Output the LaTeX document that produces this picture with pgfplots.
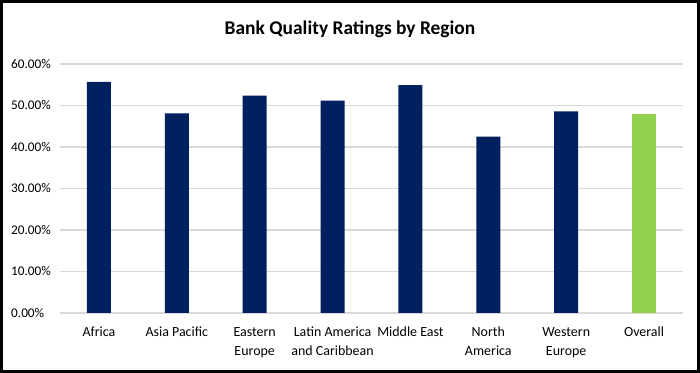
\documentclass[border=0pt]{standalone}
\usepackage{pgfplots}
\pgfplotsset{compat=1.18}
\usepackage{fontspec}
\setmainfont{Carlito}
\definecolor{navy}{HTML}{002060}
\definecolor{lgreen}{HTML}{92D050}
\definecolor{gridgray}{HTML}{D9D9D9}
\begin{document}
\begin{tikzpicture}
\fill[white] (0,0) rectangle (700bp,373bp);
\draw[black, line width=3bp] (1.5bp,1.5bp) rectangle (698.5bp,371.5bp);
\node[font=\fontsize{19.5}{23}\selectfont\bfseries] at (350bp,344bp) {Bank Quality Ratings by Region};
\begin{axis}[
  at={(60bp,60bp)}, anchor=south west,
  scale only axis, width=623bp, height=249bp,
  xmin=-0.5, xmax=7.5, ymin=0, ymax=60,
  axis line style={draw=none},
  axis x line*=bottom,
  x axis line style={draw=gridgray, line width=1.2bp},
  ymajorgrids, grid style={gridgray, line width=1.2bp},
  ytick={0,10,...,60},
  yticklabel={\pgfmathprintnumber[fixed,fixed zerofill,precision=2]{\tick}\%},
  /pgf/number format/assume math mode=true,
  yticklabel style={anchor=west, inner sep=0pt, xshift=-49bp, font=\fontsize{13.3}{15}\selectfont},
  xtick={0,...,7},
  xticklabels={Africa,Asia Pacific,Eastern\\Europe,Latin America\\and Caribbean,Middle East,North\\America,Western\\Europe,Overall},
  xticklabel style={align=center, anchor=north, inner sep=0pt, yshift=-14bp, font=\fontsize{14}{19}\selectfont},
  major tick length=0pt,
  ybar, bar width=24bp, bar shift=0pt,
]
\addplot[fill=navy, draw=none] coordinates {(0,55.7) (1,48.1) (2,52.4) (3,51.2) (4,54.9) (5,42.5) (6,48.6)};
\addplot[fill=lgreen, draw=none] coordinates {(7,48.0)};
\end{axis}
\end{tikzpicture}
\end{document}
